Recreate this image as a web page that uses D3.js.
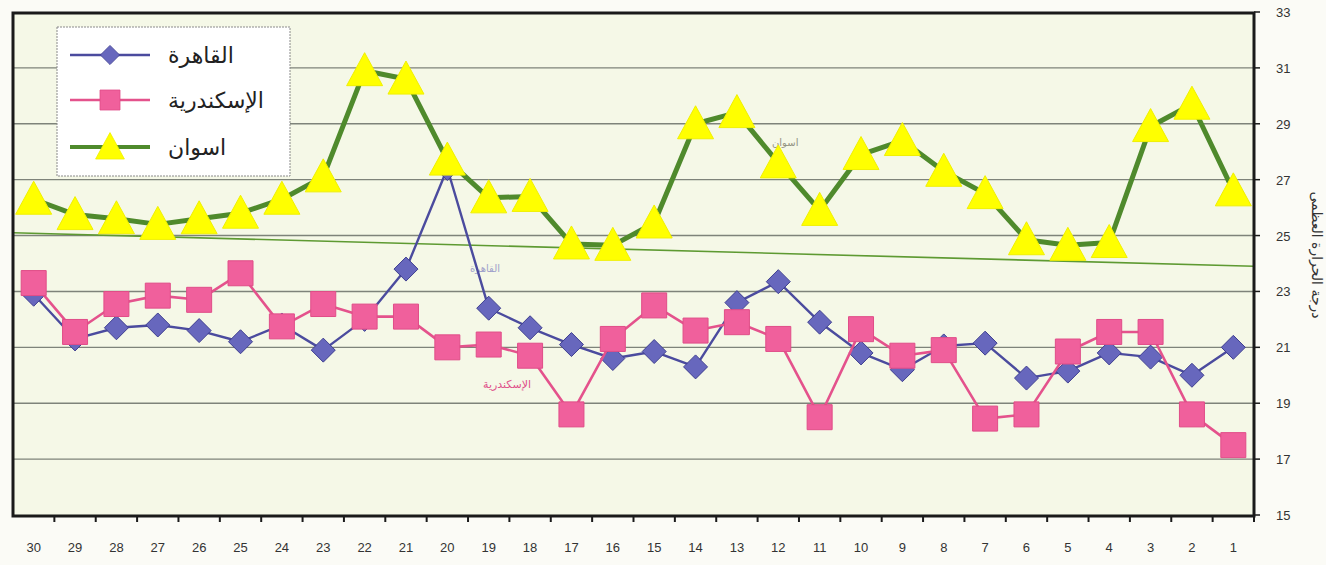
<!DOCTYPE html>
<html lang="ar">
<head>
<meta charset="utf-8">
<title>درجة الحرارة العظمى</title>
<style>
    body { margin: 0; background: #fbfbf6; }
    svg { display: block; font-family: "Liberation Sans", Arial, sans-serif; }
    .grid line { stroke: #7e837a; stroke-width: 1.4; }
    .tick-label { font-size: 13px; fill: #333; }
    .legend-text { font-size: 22px; fill: #222; font-family: "DejaVu Sans", "Noto Sans", sans-serif; }
</style>
</head>
<body>
<svg id="chart" width="1326" height="565"></svg>

<script src="https://d3js.org/d3.v7.min.js"></script>
<script>
    // days, right to left the way the original is laid out
    var days = [30, 29, 28, 27, 26, 25, 24, 23, 22, 21, 20, 19, 18, 17, 16,
                15, 14, 13, 12, 11, 10, 9, 8, 7, 6, 5, 4, 3, 2, 1];

    var cairo = [22.9, 21.3, 21.7, 21.8, 21.6, 21.2, 21.8, 20.9, 22.0, 23.8, 27.4, 22.4, 21.7, 21.1, 20.6,
                 20.85, 20.3, 22.6, 23.35, 21.9, 20.8, 20.2, 21.05, 21.15, 19.9, 20.15, 20.8, 20.65, 20.0, 21.0];

    var alexandria = [23.3, 21.55, 22.55, 22.85, 22.7, 23.65, 21.75, 22.55, 22.1, 22.1, 21.0, 21.1, 20.7, 18.6, 21.3,
                      22.5, 21.6, 21.9, 21.3, 18.5, 21.65, 20.7, 20.9, 18.45, 18.6, 20.85, 21.55, 21.55, 18.6, 17.5];

    var aswan = [26.3, 25.75, 25.6, 25.4, 25.6, 25.8, 26.3, 27.1, 30.9, 30.6, 27.7, 26.35, 26.4, 24.7, 24.65,
                 25.45, 29.0, 29.4, 27.6, 25.9, 27.9, 28.4, 27.3, 26.5, 24.85, 24.65, 24.75, 28.9, 29.7, 26.6];

    // thin straight green line across the plot (left edge, right edge)
    var trendLine = [25.1, 23.9];

    var yTicks = [15, 17, 19, 21, 23, 25, 27, 29, 31, 33];

    var seriesNames = ["القاهرة", "الإسكندرية", "اسوان"];
    var axisTitle = "درجة الحرارة العظمى";

    var svg = d3.select("#chart");
    var plot = { left: 13, right: 1254, top: 13, bottom: 516 };

    var x = d3.scaleBand().domain(days).range([plot.left, plot.right]);
    var y = d3.scaleLinear().domain([15, 33]).range([515, 12]);

    // plot background
    svg.append("rect")
        .attr("x", plot.left).attr("y", plot.top)
        .attr("width", plot.right - plot.left).attr("height", plot.bottom - plot.top)
        .attr("fill", "#f5f8e7");

    // gridlines
    svg.append("g").attr("class", "grid")
        .selectAll("line")
        .data(yTicks.filter(function (d) { return d > 15 && d < 33; }))
        .enter().append("line")
        .attr("x1", plot.left).attr("x2", plot.right)
        .attr("y1", function (d) { return y(d); })
        .attr("y2", function (d) { return y(d); });

    // trend line
    svg.append("line")
        .attr("x1", plot.left).attr("x2", plot.right)
        .attr("y1", y(trendLine[0])).attr("y2", y(trendLine[1]))
        .attr("stroke", "#5e9a32").attr("stroke-width", 1.6);

    // faint series labels that sit in the plot
    svg.append("text").attr("x", 470).attr("y", 272)
        .attr("font-size", 10).attr("fill", "#8c8cc4").attr("opacity", 0.8)
        .attr("font-family", "DejaVu Sans").text(seriesNames[0]);
    svg.append("text").attr("x", 483).attr("y", 388)
        .attr("font-size", 11).attr("fill", "#e0508a")
        .attr("font-family", "DejaVu Sans").text(seriesNames[1]);
    svg.append("text").attr("x", 772).attr("y", 146)
        .attr("font-size", 10).attr("fill", "#7a7a6a").attr("opacity", 0.8)
        .attr("font-family", "DejaVu Sans").text(seriesNames[2]);

    var line = d3.line()
        .x(function (d, i) { return x(days[i]) + x.bandwidth() / 2; })
        .y(function (d) { return y(d); });

    var diamondPath = "M0,-12L12,0L0,12L-12,0Z";
    var trianglePath = "M0,-18L18,15L-18,15Z";
    var squarePath = d3.symbol().type(d3.symbolSquare).size(25 * 25)();

    var series = [
        { values: cairo, stroke: "#4b4b9e", width: 2.4, path: diamondPath, fill: "#6767bd", edge: "#3f3f90" },
        { values: alexandria, stroke: "#e4528c", width: 2.6, path: squarePath, fill: "#f0609c", edge: "#e04d88" },
        { values: aswan, stroke: "#4f8a2c", width: 5, path: trianglePath, fill: "#ffff00", edge: "#f0f000" }
    ];

    series.forEach(function (s) {
        svg.append("path")
            .attr("d", line(s.values))
            .attr("fill", "none")
            .attr("stroke", s.stroke)
            .attr("stroke-width", s.width)
            .attr("stroke-linejoin", "round");
        svg.append("g").selectAll("path")
            .data(s.values)
            .enter().append("path")
            .attr("d", s.path)
            .attr("transform", function (d, i) {
                return "translate(" + (x(days[i]) + x.bandwidth() / 2) + "," + y(d) + ")";
            })
            .attr("fill", s.fill)
            .attr("stroke", s.edge)
            .attr("stroke-width", 1);
    });

    // frame
    svg.append("path")
        .attr("d", "M" + plot.left + "," + plot.bottom + "V" + plot.top + "H" + plot.right + "V" + plot.bottom + "Z")
        .attr("fill", "none").attr("stroke", "#1a1a1a").attr("stroke-width", 3);

    // x ticks and labels
    var xAxis = svg.append("g");
    xAxis.selectAll("line")
        .data(days)
        .enter().append("line")
        .attr("x1", function (d) { return x(d) + x.bandwidth(); })
        .attr("x2", function (d) { return x(d) + x.bandwidth(); })
        .attr("y1", plot.bottom).attr("y2", plot.bottom + 6)
        .attr("stroke", "#1a1a1a").attr("stroke-width", 2);
    xAxis.selectAll("text")
        .data(days)
        .enter().append("text")
        .attr("class", "tick-label")
        .attr("x", function (d) { return x(d) + x.bandwidth() / 2; })
        .attr("y", 552)
        .attr("text-anchor", "middle")
        .text(function (d) { return d; });

    // y ticks and labels on the right
    var yAxis = svg.append("g");
    yAxis.selectAll("line")
        .data(yTicks)
        .enter().append("line")
        .attr("x1", plot.right).attr("x2", plot.right + 6)
        .attr("y1", function (d) { return y(d); })
        .attr("y2", function (d) { return y(d); })
        .attr("stroke", "#1a1a1a").attr("stroke-width", 1.5);
    yAxis.selectAll("text")
        .data(yTicks)
        .enter().append("text")
        .attr("class", "tick-label")
        .attr("x", 1276)
        .attr("y", function (d) { return y(d) + 5; })
        .text(function (d) { return d; });

    svg.append("text")
        .attr("transform", "translate(1312,255) rotate(90)")
        .attr("text-anchor", "middle")
        .attr("font-size", 14)
        .attr("font-family", "DejaVu Sans")
        .attr("fill", "#333")
        .text(axisTitle);

    // legend
    var legend = svg.append("g");
    legend.append("rect")
        .attr("x", 57).attr("y", 27).attr("width", 233).attr("height", 149)
        .attr("fill", "#ffffff").attr("stroke", "#8a8a8a").attr("stroke-width", 1)
        .attr("stroke-dasharray", "2,1");
    var legendY = [55, 100, 147];
    series.forEach(function (s, i) {
        legend.append("line")
            .attr("x1", 70).attr("x2", 150)
            .attr("y1", legendY[i]).attr("y2", legendY[i])
            .attr("stroke", s.stroke).attr("stroke-width", s.width === 5 ? 4 : 2.4);
        legend.append("path")
            .attr("d", s.path)
            .attr("transform", "translate(110," + legendY[i] + ") scale(0.8)")
            .attr("fill", s.fill).attr("stroke", s.edge);
        legend.append("text")
            .attr("class", "legend-text")
            .attr("x", 168).attr("y", legendY[i] + 8)
            .text(seriesNames[i]);
    });
</script>
</body>
</html>
